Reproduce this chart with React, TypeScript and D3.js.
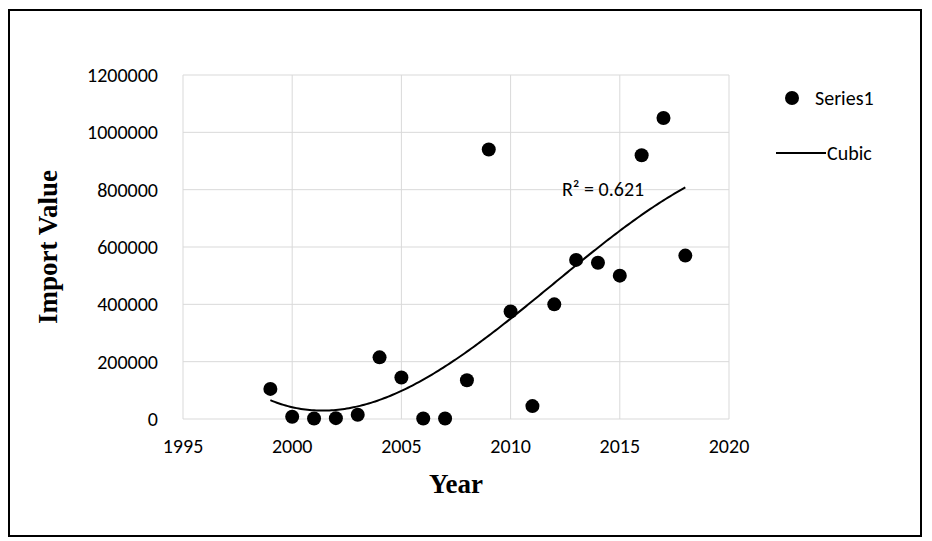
import React from 'react';
import * as d3 from 'd3';

const years = [1999, 2000, 2001, 2002, 2003, 2004, 2005, 2006, 2007, 2008, 2009, 2010, 2011, 2012, 2013, 2014, 2015, 2016, 2017, 2018];
const values = [105000, 8000, 2000, 3000, 15000, 215000, 145000, 2000, 2000, 135000, 940000, 375000, 45000, 400000, 555000, 545000, 500000, 920000, 1050000, 570000];
const xTicks = [1995, 2000, 2005, 2010, 2015, 2020];
const yTicks = [0, 200000, 400000, 600000, 800000, 1000000, 1200000];

// least squares cubic on centred years
function cubicFit(xs: number[], ys: number[]) {
  const m = d3.mean(xs)!;
  const t = xs.map(x => x - m);
  const n = 4;
  const A = Array.from({ length: n }, () => new Array(n + 1).fill(0));
  t.forEach((ti, k) => {
    for (let i = 0; i < n; i++) {
      for (let j = 0; j < n; j++) A[i][j] += Math.pow(ti, i + j);
      A[i][n] += Math.pow(ti, i) * ys[k];
    }
  });
  for (let i = 0; i < n; i++) {
    let p = i;
    for (let r = i + 1; r < n; r++) if (Math.abs(A[r][i]) > Math.abs(A[p][i])) p = r;
    [A[i], A[p]] = [A[p], A[i]];
    for (let r = 0; r < n; r++) {
      if (r === i) continue;
      const f = A[r][i] / A[i][i];
      for (let c = i; c <= n; c++) A[r][c] -= f * A[i][c];
    }
  }
  const c = A.map((row, i) => row[n] / row[i]);
  return (x: number) => { const u = x - m; return c[0] + c[1] * u + c[2] * u * u + c[3] * u * u * u; };
}

export default function App() {
  const x = d3.scaleLinear().domain([1995, 2020]).range([183, 729]);
  const y = d3.scaleLinear().domain([0, 1200000]).range([419, 75]);
  const f = cubicFit(years, values);
  const curve = d3.range(1999, 2018.001, 0.1).map(v => [x(v), y(f(v))] as [number, number]);
  const line = d3.line()(curve)!;
  const font = 'Calibri, Carlito, Lato, sans-serif';
  const fs = 20;

  return (
    <svg width={932} height={541} style={{ position: 'absolute', left: 0, top: 0 }}>
      <rect x={0} y={0} width={932} height={541} fill="#fff" />
      <rect x={9} y={10} width={912} height={526} fill="none" stroke="#000" strokeWidth={2} />
      {xTicks.map(t => <line key={'x' + t} x1={x(t)} x2={x(t)} y1={75} y2={419} stroke="#d9d9d9" />)}
      {yTicks.map(t => <line key={'y' + t} x1={183} x2={729} y1={y(t)} y2={y(t)} stroke="#d9d9d9" />)}
      {yTicks.map(t => (
        <text key={'yl' + t} x={158} y={y(t)} dy="0.35em" textAnchor="end" fontFamily={font} fontSize={fs} fill="#000">{t}</text>
      ))}
      {xTicks.map(t => (
        <text key={'xl' + t} x={x(t)} y={446} dy="0.35em" textAnchor="middle" fontFamily={font} fontSize={fs} fill="#000">{t}</text>
      ))}
      <path d={line} fill="none" stroke="#000" strokeWidth={2} />
      {years.map((yr, i) => <circle key={yr} cx={x(yr)} cy={y(values[i])} r={7} fill="#000" />)}
      <text x={562} y={189} dy="0.35em" fontFamily={font} fontSize={fs} fill="#000">R² = 0.621</text>
      <text x={456} y={493} textAnchor="middle" fontFamily='"Times New Roman", "Liberation Serif", serif' fontSize={27} fontWeight="bold">Year</text>
      <text transform="translate(57,247) rotate(-90)" textAnchor="middle" fontFamily='"Times New Roman", "Liberation Serif", serif' fontSize={27} fontWeight="bold">Import Value</text>
      <circle cx={792} cy={98} r={7} fill="#000" />
      <text x={815} y={98} dy="0.35em" fontFamily={font} fontSize={fs}>Series1</text>
      <line x1={776} x2={826} y1={153} y2={153} stroke="#000" strokeWidth={2} />
      <text x={827} y={153} dy="0.35em" fontFamily={font} fontSize={fs}>Cubic</text>
    </svg>
  );
}
